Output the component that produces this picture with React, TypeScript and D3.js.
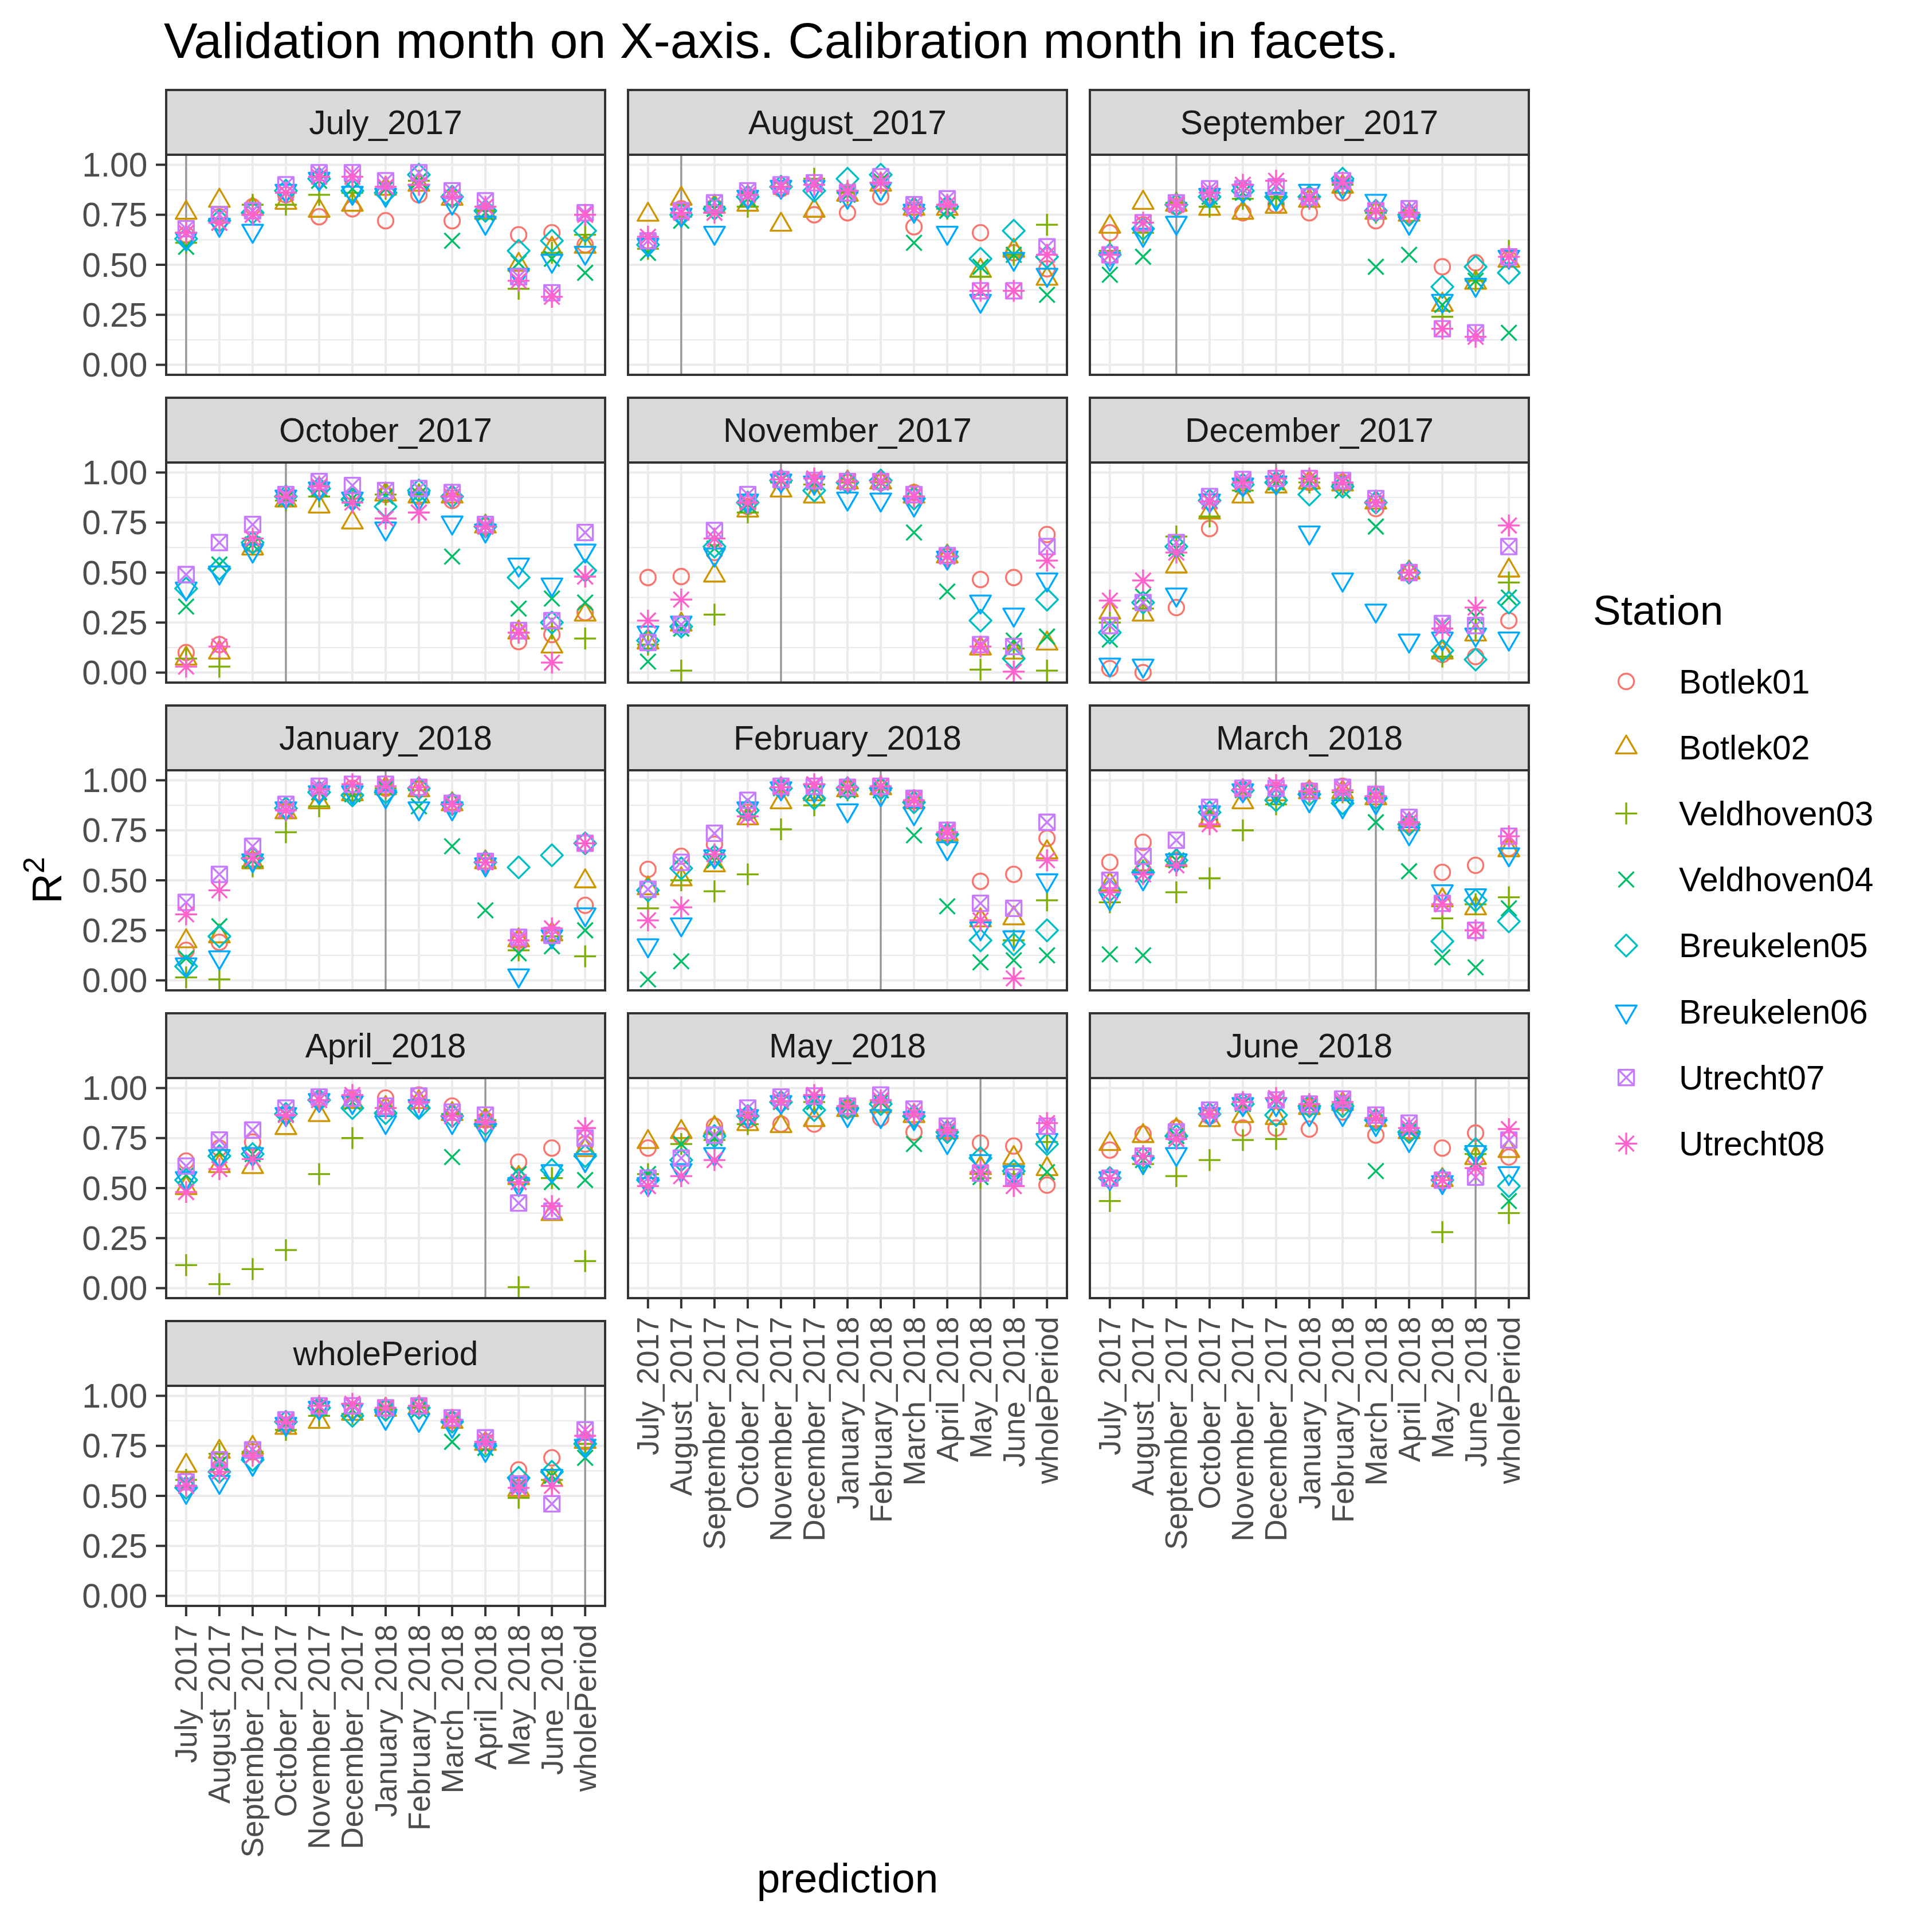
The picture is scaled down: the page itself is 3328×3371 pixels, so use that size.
import React from 'react';
import * as d3 from 'd3';

// validation months (x axis) and calibration months (facets) share the same labels
const months = [
  'July_2017', 'August_2017', 'September_2017', 'October_2017', 'November_2017', 'December_2017',
  'January_2018', 'February_2018', 'March_2018', 'April_2018', 'May_2018', 'June_2018', 'wholePeriod',
];
const stations = ['Botlek01', 'Botlek02', 'Veldhoven03', 'Veldhoven04', 'Breukelen05', 'Breukelen06', 'Utrecht07', 'Utrecht08'];
const stationColors = ['#F8766D', '#CD9600', '#7CAE00', '#00BE67', '#00BFC4', '#00A9FF', '#C77CFF', '#FF61CC'];
const yTicks = [0, 0.25, 0.5, 0.75, 1];
const yMinor = [0.125, 0.375, 0.625, 0.875];

// one row per validation month, one value per station (R2)
const july2017 = [
  [0.65, 0.76, 0.61, 0.59, 0.63, 0.63, 0.68, 0.66],
  [0.74, 0.82, 0.72, 0.71, 0.72, 0.70, 0.75, 0.71],
  [0.79, 0.78, 0.80, 0.77, 0.76, 0.67, 0.77, 0.75],
  [0.85, 0.81, 0.80, 0.86, 0.87, 0.87, 0.90, 0.86],
  [0.74, 0.77, 0.85, 0.92, 0.93, 0.93, 0.96, 0.94],
  [0.78, 0.80, 0.86, 0.88, 0.87, 0.86, 0.96, 0.94],
  [0.72, 0.88, 0.88, 0.88, 0.86, 0.85, 0.92, 0.89],
  [0.85, 0.90, 0.92, 0.92, 0.95, 0.87, 0.96, 0.90],
  [0.72, 0.83, 0.84, 0.62, 0.84, 0.81, 0.87, 0.84],
  [0.77, 0.76, 0.77, 0.76, 0.77, 0.71, 0.82, 0.79],
  [0.65, 0.50, 0.38, 0.51, 0.57, 0.45, 0.44, 0.42],
  [0.66, 0.58, 0.56, 0.53, 0.62, 0.52, 0.36, 0.34],
  [0.60, 0.59, 0.65, 0.46, 0.67, 0.56, 0.76, 0.75],
];
const august2017 = [
  [0.62, 0.75, 0.58, 0.56, 0.60, 0.60, 0.62, 0.64],
  [0.78, 0.83, 0.74, 0.72, 0.75, 0.75, 0.77, 0.76],
  [0.79, 0.79, 0.79, 0.78, 0.78, 0.66, 0.81, 0.76],
  [0.83, 0.80, 0.79, 0.83, 0.84, 0.84, 0.87, 0.85],
  [0.88, 0.70, 0.89, 0.89, 0.89, 0.89, 0.90, 0.89],
  [0.75, 0.77, 0.93, 0.90, 0.87, 0.89, 0.91, 0.90],
  [0.76, 0.85, 0.86, 0.85, 0.93, 0.84, 0.86, 0.87],
  [0.84, 0.90, 0.91, 0.92, 0.95, 0.88, 0.94, 0.91],
  [0.69, 0.78, 0.78, 0.61, 0.78, 0.77, 0.80, 0.78],
  [0.79, 0.78, 0.78, 0.77, 0.79, 0.66, 0.83, 0.80],
  [0.66, 0.47, 0.44, 0.49, 0.53, 0.32, 0.37, 0.37],
  [0.56, 0.57, 0.55, 0.55, 0.67, 0.53, 0.37, 0.37],
  [0.48, 0.43, 0.70, 0.35, 0.54, 0.45, 0.59, 0.55],
];
const september2017 = [
  [0.66, 0.69, 0.57, 0.45, 0.55, 0.53, 0.55, 0.55],
  [0.70, 0.81, 0.66, 0.54, 0.68, 0.65, 0.71, 0.71],
  [0.79, 0.80, 0.81, 0.80, 0.80, 0.71, 0.81, 0.80],
  [0.84, 0.78, 0.79, 0.84, 0.84, 0.85, 0.88, 0.86],
  [0.76, 0.76, 0.83, 0.86, 0.87, 0.87, 0.88, 0.90],
  [0.80, 0.79, 0.84, 0.84, 0.84, 0.83, 0.89, 0.92],
  [0.76, 0.82, 0.84, 0.84, 0.84, 0.87, 0.84, 0.83],
  [0.86, 0.89, 0.90, 0.90, 0.93, 0.89, 0.92, 0.91],
  [0.72, 0.76, 0.76, 0.49, 0.77, 0.82, 0.77, 0.77],
  [0.75, 0.75, 0.75, 0.55, 0.75, 0.71, 0.78, 0.76],
  [0.49, 0.30, 0.24, 0.30, 0.39, 0.32, 0.18, 0.18],
  [0.51, 0.41, 0.42, 0.42, 0.49, 0.40, 0.16, 0.14],
  [0.53, 0.52, 0.57, 0.16, 0.46, 0.54, 0.54, 0.54],
];
const october2017 = [
  [0.10, 0.07, 0.07, 0.33, 0.42, 0.42, 0.49, 0.03],
  [0.14, 0.10, 0.03, 0.54, 0.52, 0.50, 0.65, 0.13],
  [0.64, 0.62, 0.64, 0.64, 0.65, 0.61, 0.74, 0.67],
  [0.87, 0.86, 0.86, 0.87, 0.88, 0.88, 0.89, 0.88],
  [0.91, 0.83, 0.88, 0.92, 0.92, 0.92, 0.955, 0.93],
  [0.88, 0.75, 0.87, 0.87, 0.865, 0.87, 0.935, 0.85],
  [0.89, 0.89, 0.89, 0.88, 0.83, 0.72, 0.91, 0.77],
  [0.88, 0.88, 0.89, 0.89, 0.91, 0.87, 0.92, 0.80],
  [0.86, 0.88, 0.88, 0.58, 0.88, 0.75, 0.90, 0.88],
  [0.73, 0.73, 0.73, 0.73, 0.73, 0.71, 0.74, 0.73],
  [0.155, 0.20, 0.20, 0.32, 0.475, 0.54, 0.21, 0.20],
  [0.19, 0.13, 0.22, 0.37, 0.25, 0.44, 0.26, 0.05],
  [0.30, 0.29, 0.17, 0.35, 0.51, 0.61, 0.70, 0.48],
];
const november2017 = [
  [0.475, 0.15, 0.14, 0.055, 0.16, 0.20, 0.15, 0.26],
  [0.48, 0.24, 0.01, 0.22, 0.23, 0.25, 0.24, 0.365],
  [0.60, 0.485, 0.29, 0.62, 0.63, 0.59, 0.71, 0.67],
  [0.83, 0.81, 0.80, 0.84, 0.85, 0.86, 0.89, 0.85],
  [0.96, 0.91, 0.95, 0.96, 0.96, 0.96, 0.965, 0.965],
  [0.95, 0.88, 0.94, 0.95, 0.91, 0.95, 0.96, 0.97],
  [0.95, 0.95, 0.95, 0.95, 0.95, 0.87, 0.955, 0.955],
  [0.95, 0.95, 0.95, 0.95, 0.96, 0.865, 0.955, 0.955],
  [0.90, 0.88, 0.88, 0.70, 0.87, 0.84, 0.89, 0.88],
  [0.58, 0.58, 0.58, 0.405, 0.58, 0.575, 0.585, 0.58],
  [0.465, 0.12, 0.015, 0.14, 0.26, 0.355, 0.14, 0.13],
  [0.475, 0.10, 0.12, 0.16, 0.07, 0.29, 0.13, 0.005],
  [0.69, 0.145, 0.01, 0.18, 0.365, 0.465, 0.63, 0.56],
];
const december2017 = [
  [0.02, 0.30, 0.25, 0.165, 0.20, 0.04, 0.235, 0.36],
  [0.00, 0.29, 0.32, 0.38, 0.35, 0.035, 0.35, 0.46],
  [0.325, 0.53, 0.68, 0.62, 0.63, 0.39, 0.65, 0.60],
  [0.72, 0.80, 0.78, 0.86, 0.86, 0.86, 0.88, 0.855],
  [0.93, 0.88, 0.91, 0.94, 0.94, 0.94, 0.965, 0.95],
  [0.95, 0.93, 0.95, 0.95, 0.95, 0.95, 0.97, 0.97],
  [0.95, 0.95, 0.95, 0.95, 0.89, 0.70, 0.97, 0.97],
  [0.95, 0.94, 0.94, 0.91, 0.93, 0.465, 0.96, 0.95],
  [0.82, 0.85, 0.85, 0.73, 0.85, 0.31, 0.87, 0.85],
  [0.50, 0.50, 0.50, 0.50, 0.50, 0.16, 0.50, 0.50],
  [0.09, 0.10, 0.08, 0.24, 0.11, 0.17, 0.245, 0.22],
  [0.08, 0.19, 0.22, 0.28, 0.065, 0.19, 0.235, 0.325],
  [0.26, 0.51, 0.45, 0.375, 0.35, 0.17, 0.63, 0.735],
];
const january2018 = [
  [0.15, 0.195, 0.015, 0.11, 0.07, 0.08, 0.39, 0.33],
  [0.19, 0.22, 0.005, 0.27, 0.22, 0.115, 0.53, 0.45],
  [0.60, 0.59, 0.57, 0.60, 0.61, 0.60, 0.67, 0.61],
  [0.85, 0.84, 0.74, 0.85, 0.86, 0.86, 0.88, 0.85],
  [0.94, 0.89, 0.87, 0.94, 0.94, 0.94, 0.97, 0.955],
  [0.96, 0.93, 0.93, 0.93, 0.925, 0.94, 0.98, 0.98],
  [0.96, 0.96, 0.96, 0.96, 0.94, 0.92, 0.98, 0.97],
  [0.96, 0.95, 0.95, 0.87, 0.96, 0.86, 0.965, 0.965],
  [0.89, 0.88, 0.88, 0.67, 0.88, 0.86, 0.885, 0.88],
  [0.59, 0.59, 0.59, 0.35, 0.59, 0.58, 0.595, 0.59],
  [0.20, 0.20, 0.15, 0.135, 0.565, 0.025, 0.215, 0.20],
  [0.23, 0.23, 0.22, 0.17, 0.625, 0.22, 0.225, 0.26],
  [0.375, 0.495, 0.12, 0.25, 0.685, 0.33, 0.685, 0.685],
];
const february2018 = [
  [0.555, 0.46, 0.36, 0.005, 0.45, 0.175, 0.455, 0.30],
  [0.62, 0.505, 0.50, 0.095, 0.56, 0.28, 0.59, 0.365],
  [0.68, 0.575, 0.445, 0.60, 0.62, 0.62, 0.735, 0.63],
  [0.84, 0.81, 0.53, 0.85, 0.85, 0.86, 0.90, 0.82],
  [0.96, 0.89, 0.755, 0.96, 0.96, 0.96, 0.97, 0.965],
  [0.95, 0.93, 0.875, 0.94, 0.91, 0.95, 0.97, 0.98],
  [0.96, 0.95, 0.95, 0.95, 0.96, 0.85, 0.965, 0.965],
  [0.96, 0.96, 0.95, 0.95, 0.96, 0.93, 0.97, 0.97],
  [0.91, 0.89, 0.89, 0.725, 0.89, 0.835, 0.91, 0.90],
  [0.73, 0.73, 0.73, 0.37, 0.73, 0.66, 0.75, 0.74],
  [0.495, 0.30, 0.30, 0.09, 0.20, 0.26, 0.385, 0.30],
  [0.53, 0.31, 0.20, 0.10, 0.18, 0.215, 0.36, 0.01],
  [0.71, 0.64, 0.40, 0.125, 0.25, 0.50, 0.79, 0.60],
];
const march2018 = [
  [0.59, 0.48, 0.39, 0.13, 0.45, 0.41, 0.50, 0.44],
  [0.69, 0.565, 0.55, 0.125, 0.54, 0.51, 0.62, 0.53],
  [0.60, 0.60, 0.44, 0.60, 0.60, 0.60, 0.70, 0.575],
  [0.80, 0.80, 0.51, 0.84, 0.84, 0.84, 0.865, 0.78],
  [0.95, 0.89, 0.75, 0.95, 0.95, 0.95, 0.96, 0.955],
  [0.95, 0.93, 0.88, 0.91, 0.90, 0.94, 0.96, 0.975],
  [0.95, 0.94, 0.94, 0.94, 0.93, 0.90, 0.945, 0.945],
  [0.97, 0.94, 0.94, 0.92, 0.885, 0.87, 0.965, 0.95],
  [0.93, 0.91, 0.91, 0.79, 0.91, 0.89, 0.93, 0.92],
  [0.78, 0.78, 0.78, 0.545, 0.78, 0.735, 0.815, 0.79],
  [0.54, 0.40, 0.31, 0.115, 0.195, 0.445, 0.385, 0.38],
  [0.575, 0.36, 0.38, 0.065, 0.40, 0.425, 0.25, 0.25],
  [0.66, 0.65, 0.415, 0.36, 0.295, 0.63, 0.72, 0.72],
];
const april2018 = [
  [0.635, 0.50, 0.115, 0.565, 0.54, 0.55, 0.61, 0.48],
  [0.70, 0.61, 0.02, 0.68, 0.66, 0.66, 0.74, 0.595],
  [0.73, 0.605, 0.095, 0.67, 0.67, 0.67, 0.79, 0.645],
  [0.87, 0.80, 0.19, 0.87, 0.87, 0.87, 0.90, 0.865],
  [0.94, 0.865, 0.57, 0.94, 0.94, 0.94, 0.955, 0.94],
  [0.94, 0.93, 0.75, 0.93, 0.90, 0.93, 0.95, 0.965],
  [0.95, 0.90, 0.90, 0.90, 0.875, 0.83, 0.91, 0.90],
  [0.965, 0.93, 0.93, 0.93, 0.90, 0.91, 0.96, 0.93],
  [0.91, 0.87, 0.87, 0.655, 0.86, 0.83, 0.88, 0.86],
  [0.84, 0.84, 0.84, 0.83, 0.82, 0.79, 0.865, 0.83],
  [0.63, 0.55, 0.005, 0.57, 0.54, 0.52, 0.425, 0.53],
  [0.70, 0.37, 0.55, 0.53, 0.59, 0.585, 0.385, 0.41],
  [0.72, 0.69, 0.135, 0.54, 0.66, 0.64, 0.75, 0.80],
];
const may2018 = [
  [0.70, 0.73, 0.57, 0.57, 0.54, 0.52, 0.55, 0.51],
  [0.76, 0.78, 0.72, 0.72, 0.64, 0.59, 0.65, 0.56],
  [0.81, 0.80, 0.74, 0.75, 0.76, 0.67, 0.765, 0.64],
  [0.84, 0.82, 0.82, 0.85, 0.86, 0.86, 0.90, 0.86],
  [0.82, 0.81, 0.93, 0.93, 0.93, 0.93, 0.955, 0.935],
  [0.82, 0.84, 0.93, 0.93, 0.89, 0.93, 0.96, 0.965],
  [0.89, 0.89, 0.90, 0.90, 0.90, 0.865, 0.91, 0.91],
  [0.85, 0.91, 0.93, 0.93, 0.92, 0.86, 0.965, 0.94],
  [0.78, 0.86, 0.86, 0.72, 0.86, 0.85, 0.895, 0.87],
  [0.78, 0.78, 0.78, 0.78, 0.78, 0.73, 0.81, 0.79],
  [0.725, 0.60, 0.55, 0.555, 0.65, 0.635, 0.575, 0.58],
  [0.71, 0.65, 0.57, 0.55, 0.585, 0.58, 0.555, 0.51],
  [0.515, 0.595, 0.73, 0.58, 0.72, 0.74, 0.81, 0.825],
];
const june2018 = [
  [0.69, 0.72, 0.435, 0.55, 0.55, 0.55, 0.55, 0.55],
  [0.77, 0.76, 0.62, 0.64, 0.65, 0.63, 0.66, 0.66],
  [0.80, 0.79, 0.56, 0.76, 0.76, 0.67, 0.78, 0.745],
  [0.86, 0.84, 0.64, 0.87, 0.87, 0.87, 0.89, 0.87],
  [0.80, 0.86, 0.74, 0.92, 0.92, 0.92, 0.93, 0.93],
  [0.80, 0.85, 0.745, 0.92, 0.865, 0.92, 0.94, 0.95],
  [0.795, 0.90, 0.91, 0.91, 0.91, 0.87, 0.92, 0.92],
  [0.88, 0.92, 0.92, 0.92, 0.91, 0.87, 0.945, 0.93],
  [0.765, 0.84, 0.84, 0.585, 0.84, 0.82, 0.865, 0.85],
  [0.78, 0.78, 0.78, 0.785, 0.78, 0.74, 0.825, 0.80],
  [0.70, 0.54, 0.28, 0.54, 0.54, 0.53, 0.54, 0.54],
  [0.775, 0.65, 0.67, 0.63, 0.695, 0.68, 0.555, 0.60],
  [0.655, 0.685, 0.375, 0.435, 0.51, 0.575, 0.74, 0.795],
];
const wholePeriod = [
  [0.58, 0.65, 0.58, 0.56, 0.54, 0.52, 0.57, 0.55],
  [0.64, 0.72, 0.71, 0.66, 0.62, 0.57, 0.68, 0.62],
  [0.72, 0.74, 0.72, 0.70, 0.68, 0.66, 0.73, 0.70],
  [0.85, 0.84, 0.83, 0.86, 0.87, 0.86, 0.88, 0.87],
  [0.94, 0.87, 0.90, 0.94, 0.94, 0.94, 0.95, 0.95],
  [0.93, 0.91, 0.91, 0.93, 0.90, 0.93, 0.95, 0.96],
  [0.94, 0.93, 0.93, 0.93, 0.93, 0.89, 0.94, 0.94],
  [0.95, 0.94, 0.94, 0.93, 0.94, 0.88, 0.95, 0.95],
  [0.88, 0.87, 0.87, 0.77, 0.87, 0.85, 0.89, 0.88],
  [0.77, 0.76, 0.76, 0.74, 0.75, 0.73, 0.79, 0.77],
  [0.63, 0.53, 0.49, 0.55, 0.59, 0.56, 0.56, 0.54],
  [0.69, 0.58, 0.58, 0.60, 0.62, 0.60, 0.46, 0.55],
  [0.77, 0.77, 0.76, 0.69, 0.76, 0.75, 0.83, 0.80],
];

const facetValues = [
  july2017, august2017, september2017, october2017, november2017, december2017,
  january2018, february2018, march2018, april2018, may2018, june2018, wholePeriod,
];

const W = 3328;
const H = 3371;
const FONT = 'Liberation Sans, Arial, Helvetica, sans-serif';
const colX = [290, 1096, 1902];
const rowY = [270, 807, 1344, 1881, 2418];
const panelW = 766;
const panelH = 384;
const stripH = 113;
const R = 13.5;
const SW = 3.3;
const tickLen = 18;

const x = d3.scalePoint<string>().domain(months).range([0, panelW]).padding(0.6);
const y = d3.scaleLinear().domain([-0.05, 1.05]).range([panelH, 0]);

// R pch shapes 1..8
function Shape({ type, color }: { type: number; color: string }) {
  const s2 = Math.SQRT2 * R;
  const t0 = 1.5551 * R;
  const t1 = 1.3468 * R;
  const t2 = 0.7776 * R;
  const cross = `M${-R},${-R}L${R},${R}M${-R},${R}L${R},${-R}`;
  let d = '';
  if (type === 0) return <circle r={R} fill="none" stroke={color} strokeWidth={SW} />;
  if (type === 1) d = `M0,${-t0}L${t1},${t2}L${-t1},${t2}Z`;
  if (type === 2) d = `M${-s2},0H${s2}M0,${-s2}V${s2}`;
  if (type === 3) d = cross;
  if (type === 4) d = `M0,${-s2}L${s2},0L0,${s2}L${-s2},0Z`;
  if (type === 5) d = `M0,${t0}L${t1},${-t2}L${-t1},${-t2}Z`;
  if (type === 6) d = `M${-R},${-R}H${R}V${R}H${-R}Z` + cross;
  if (type === 7) d = cross + `M${-s2},0H${s2}M0,${-s2}V${s2}`;
  return <path d={d} fill="none" stroke={color} strokeWidth={SW} strokeLinejoin="round" />;
}

function Facet({ index }: { index: number }) {
  const name = months[index];
  const values = facetValues[index];
  const col = index % 3;
  const row = Math.floor(index / 3);
  const px = colX[col];
  const py = rowY[row];
  const bottomAxis = index >= 10;
  return (
    <g transform={`translate(${px},${py})`}>
      <rect width={panelW} height={panelH} fill="#FFFFFF" />
      {yMinor.map((v) => (
        <line key={'mi' + v} x1={0} x2={panelW} y1={y(v)} y2={y(v)} stroke="#EBEBEB" strokeWidth={2.4} />
      ))}
      {yTicks.map((v) => (
        <line key={'ma' + v} x1={0} x2={panelW} y1={y(v)} y2={y(v)} stroke="#EBEBEB" strokeWidth={4} />
      ))}
      {months.map((m) => (
        <line key={'v' + m} x1={x(m)} x2={x(m)} y1={0} y2={panelH} stroke="#EBEBEB" strokeWidth={4} />
      ))}
      <line x1={x(name)} x2={x(name)} y1={0} y2={panelH} stroke="#959595" strokeWidth={3.2} />
      {stations.map((st, si) => (
        <g key={st}>
          {values.map((rowVals, mi) => (
            <g key={mi} transform={`translate(${x(months[mi])},${y(rowVals[si])})`}>
              <Shape type={si} color={stationColors[si]} />
            </g>
          ))}
        </g>
      ))}
      <rect width={panelW} height={panelH} fill="none" stroke="#333333" strokeWidth={4} />
      <rect y={-stripH} width={panelW} height={stripH} fill="#D9D9D9" stroke="#333333" strokeWidth={4} />
      <text
        x={panelW / 2}
        y={-stripH / 2}
        textAnchor="middle"
        dominantBaseline="central"
        fontSize={58.7}
        fill="#1A1A1A"
      >
        {name}
      </text>
      {col === 0 &&
        yTicks.map((v) => (
          <g key={'yt' + v}>
            <line x1={-tickLen} x2={0} y1={y(v)} y2={y(v)} stroke="#333333" strokeWidth={4} />
            <text
              x={-tickLen - 14.6}
              y={y(v)}
              textAnchor="end"
              dominantBaseline="central"
              fontSize={58.7}
              fill="#4D4D4D"
            >
              {d3.format('.2f')(v)}
            </text>
          </g>
        ))}
      {bottomAxis &&
        months.map((m) => (
          <g key={'xt' + m}>
            <line x1={x(m)} x2={x(m)} y1={panelH} y2={panelH + tickLen} stroke="#333333" strokeWidth={4} />
            <text
              transform={`translate(${x(m)},${panelH + tickLen + 14.6}) rotate(-90)`}
              textAnchor="end"
              dominantBaseline="central"
              fontSize={53}
              fill="#4D4D4D"
            >
              {m}
            </text>
          </g>
        ))}
    </g>
  );
}

const App: React.FC = () => {
  const legendY0 = 1189;
  const legendStep = 115.2;
  return (
    <svg
      width={W}
      height={H}
      style={{ position: 'absolute', left: 0, top: 0, background: '#FFFFFF' }}
      fontFamily={FONT}
    >
      <rect width={W} height={H} fill="#FFFFFF" />
      <text x={286} y={101} fontSize={88} fill="#000000">
        Validation month on X-axis. Calibration month in facets.
      </text>
      {months.map((m, i) => (
        <Facet key={m} index={i} />
      ))}
      <text transform={`translate(107,1536) rotate(-90)`} textAnchor="middle" fontSize={73} fill="#000000">
        R<tspan fontSize={52} dy={-30}>2</tspan>
      </text>
      <text x={(colX[0] + colX[2] + panelW) / 2} y={3302} textAnchor="middle" fontSize={73} fill="#000000">
        prediction
      </text>
      <text x={2780} y={1090} fontSize={73} fill="#000000">
        Station
      </text>
      {stations.map((st, si) => (
        <g key={st} transform={`translate(0,${legendY0 + si * legendStep})`}>
          <g transform="translate(2838,0)">
            <Shape type={si} color={stationColors[si]} />
          </g>
          <text x={2930} y={0} dominantBaseline="central" fontSize={58.7} fill="#000000">
            {st}
          </text>
        </g>
      ))}
    </svg>
  );
};

export default App;
